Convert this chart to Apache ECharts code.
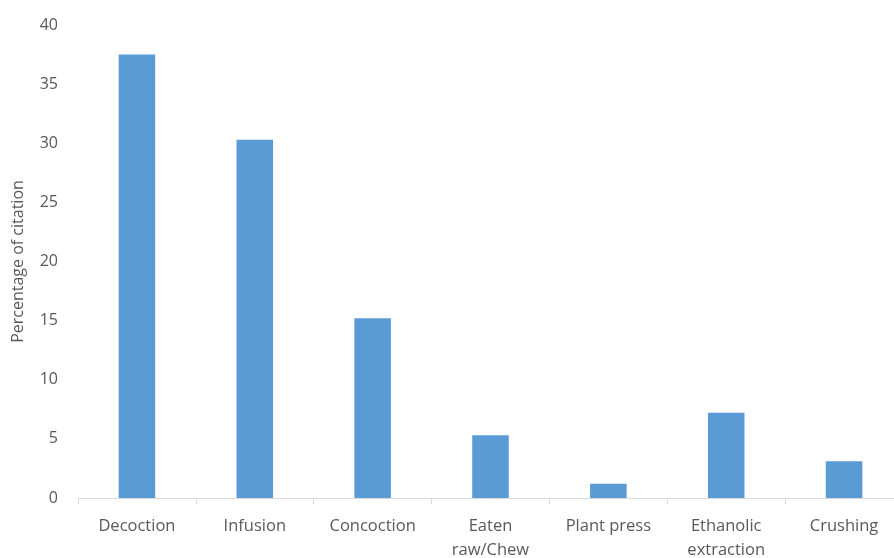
<!DOCTYPE html>
<html>
<head>
<meta charset="utf-8">
<script src="https://cdn.jsdelivr.net/npm/echarts@6/dist/echarts.min.js"></script>
<style>
  html, body { margin: 0; padding: 0; background: #fff; }
  #chart { width: 894px; height: 558px; }
</style>
</head>
<body>
<div id="chart"></div>
<script>
// Preparation methods and share of citations (%)
const categories = ['Decoction', 'Infusion', 'Concoction', 'Eaten\nraw/Chew', 'Plant press', 'Ethanolic\nextraction', 'Crushing'];
const citation = [37.5, 30.3, 15.2, 5.3, 1.2, 7.2, 3.1];
const yTicks = { min: 0, max: 40, step: 5 };

const chart = echarts.init(document.getElementById('chart'));
const font = '"Open Sans", "Liberation Sans", sans-serif';

chart.setOption({
  animation: false,
  grid: { left: 78, right: -9, top: 25, bottom: 60, containLabel: false, outerBoundsMode: 'none' },
  xAxis: {
    type: 'category',
    data: categories,
    axisLine: { lineStyle: { color: '#d9d9d9', width: 1 } },
    axisTick: { show: true, length: 6, lineStyle: { color: '#d9d9d9' } },
    axisLabel: { color: '#595959', fontFamily: font, fontSize: 16.5, margin: 16, lineHeight: 24 }
  },
  yAxis: {
    type: 'value',
    min: yTicks.min,
    max: yTicks.max,
    interval: yTicks.step,
    name: 'Percentage of citation',
    nameLocation: 'middle',
    nameGap: 52,
    nameTextStyle: { color: '#595959', fontFamily: font, fontSize: 16 },
    axisLine: { show: false },
    axisTick: { show: false },
    splitLine: { show: false },
    axisLabel: { color: '#595959', fontFamily: font, fontSize: 16, margin: 20 }
  },
  series: [{
    type: 'bar',
    data: citation,
    barWidth: '31%',
    itemStyle: { color: '#5b9bd5' }
  }]
});
</script>
</body>
</html>
